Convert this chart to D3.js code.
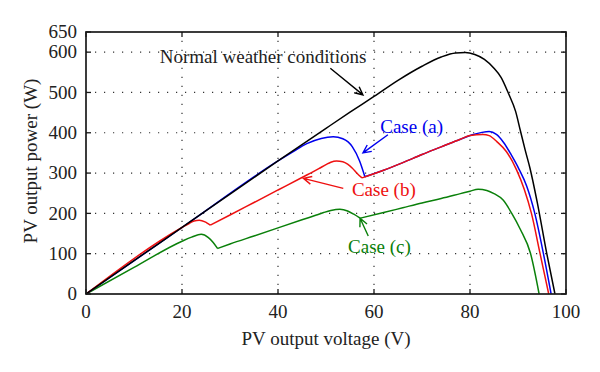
<!DOCTYPE html>
<html><head><meta charset="utf-8">
<script src="https://cdn.jsdelivr.net/npm/d3@7"></script>
<style>
html,body{margin:0;padding:0;background:#fff;}
text{font-family:"Liberation Serif","Times New Roman",serif;}
</style></head>
<body><svg id="c" width="600" height="372"></svg>
<script>
// ---- data ----
const xTicks = [0, 20, 40, 60, 80, 100];
const yTicks = [0, 100, 200, 300, 400, 500, 600, 650];

const normalV = [0, 10, 20, 30, 40, 50, 55, 60, 65, 70, 74, 77, 79, 81, 83, 85, 86.5, 88, 89.5, 90.5, 91.5, 92.5, 94, 96, 97.7];
const normalP = [0, 83, 165, 248, 330, 411, 451, 490, 530, 565, 588, 598, 599, 594, 582, 560, 537, 498, 453, 405, 357, 312, 228, 100, 0];

const caseAV = [0, 20, 40, 43, 46, 49, 51.5, 53.5, 55.5, 57, 58.1, 62, 66, 70, 74, 78, 80.5, 82.5, 84, 85.5, 87, 88.6, 90.2, 91.8, 93.5, 95.3, 96.9];
const caseAP = [0, 165, 330, 352, 373, 386, 390, 385, 365, 330, 291, 307, 326, 346, 365, 384, 395, 401, 403, 396, 376, 345, 310, 268, 200, 100, 0];

const caseBV = [0, 20, 21.5, 22.5, 23.6, 24.8, 25.5, 25.9, 30, 35, 40, 45, 48.5, 50, 51, 52.2, 53.5, 54.5, 55.5, 56.5, 57.5, 62, 66, 70, 74, 78, 80, 82.7, 84, 85.6, 87.6, 89.7, 91.3, 92.8, 94.6, 96.4];
const caseBP = [0, 165, 175, 181, 183, 179, 174, 171, 196, 227, 258, 289, 311, 321, 327, 330, 328, 322, 312, 299, 288, 307, 326, 346, 365, 384, 393, 396, 393, 378, 353, 308, 260, 200, 100, 0];

const caseCV = [0, 10, 20, 22, 24, 25.5, 26.5, 27.4, 30, 35, 40, 45, 48, 49.5, 51, 52.9, 54.5, 55.8, 57.1, 62, 66, 70, 74, 78, 80, 81.7, 83.5, 85, 86.9, 88.7, 90.5, 92.6, 94.4];
const caseCP = [0, 66, 131, 141, 148, 140, 128, 113, 124, 144, 164, 184, 196, 202, 207, 210, 206, 198, 188, 202, 214, 226, 237, 249, 255, 260, 257, 249, 233, 200, 160, 101, 0];

const seriesNames = ["Normal weather conditions", "Case (a)", "Case (b)", "Case (c)"];
const seriesColors = ["#000000", "#0000ee", "#ee1111", "#0a800a"];

// annotations: label position and arrow (from -> to) in data units
const labelX = [36.9, 61.3, 55.4, 54.6];
const labelY = [572, 399, 244, 102];
const labelAnchor = ["middle", "start", "start", "start"];
const arrowFromX = [50.9, 62.9, 53.6, 58.8];
const arrowFromY = [560, 395, 262, 144];
const arrowToX = [57.7, 57.7, 45.3, 57.1];
const arrowToY = [494, 350, 287, 188];

// ---- layout ----
const W = 600, H = 372;
const m = {l: 86, r: 34, t: 32, b: 78};
const svg = d3.select("#c");
const x = d3.scaleLinear().domain([0, 100]).range([m.l, W - m.r]);
const y = d3.scaleLinear().domain([0, 650]).range([H - m.b, m.t]);

const g = svg.append("g");

// grid (dotted)
g.selectAll(".gx").data(xTicks.filter(d => d > 0 && d < 100)).join("line")
  .attr("x1", d => x(d)).attr("x2", d => x(d)).attr("y1", y(0)).attr("y2", y(650))
  .attr("stroke", "#333").attr("stroke-width", 1.2).attr("stroke-dasharray", "1.2,7.8");
g.selectAll(".gy").data(yTicks.filter(d => d > 0 && d < 650)).join("line")
  .attr("y1", d => y(d)).attr("y2", d => y(d)).attr("x1", x(0)).attr("x2", x(100))
  .attr("stroke", "#333").attr("stroke-width", 1.2).attr("stroke-dasharray", "1.2,7.8");

// curves (drawn green, blue, red, then black on top)
const allV = [normalV, caseAV, caseBV, caseCV];
const allP = [normalP, caseAP, caseBP, caseCP];
const drawOrder = [3, 1, 2, 0];
const lineGen = d3.line().x(d => x(d[0])).y(d => y(d[1])).curve(d3.curveMonotoneX);
drawOrder.forEach(k => {
  const V = allV[k], P = allP[k];
  const pts = V.map((v, i) => [v, P[i]]);
  // split into segments at sharp local minima (cusps) so corners stay sharp
  const segs = []; let cur = [pts[0]];
  for (let i = 1; i < pts.length; i++) {
    cur.push(pts[i]);
    if (i < pts.length - 1 && P[i] < P[i - 1] && P[i] < P[i + 1]) { segs.push(cur); cur = [pts[i]]; }
  }
  segs.push(cur);
  const d = segs.map(s => lineGen(s)).join("");
  g.append("path").attr("d", d).attr("fill", "none")
    .attr("stroke", seriesColors[k]).attr("stroke-width", 1.5).attr("stroke-linejoin", "round");
});

// frame
g.append("rect").attr("x", x(0)).attr("y", y(650)).attr("width", x(100) - x(0)).attr("height", y(0) - y(650))
  .attr("fill", "none").attr("stroke", "#1a1a1a").attr("stroke-width", 1.7);

// inward ticks on all four sides
const tl = 5;
xTicks.forEach(t => {
  g.append("line").attr("x1", x(t)).attr("x2", x(t)).attr("y1", y(0)).attr("y2", y(0) - tl).attr("stroke", "#1a1a1a").attr("stroke-width", 1.3);
  g.append("line").attr("x1", x(t)).attr("x2", x(t)).attr("y1", y(650)).attr("y2", y(650) + tl).attr("stroke", "#1a1a1a").attr("stroke-width", 1.3);
});
yTicks.forEach(t => {
  g.append("line").attr("y1", y(t)).attr("y2", y(t)).attr("x1", x(0)).attr("x2", x(0) + tl).attr("stroke", "#1a1a1a").attr("stroke-width", 1.3);
  g.append("line").attr("y1", y(t)).attr("y2", y(t)).attr("x1", x(100)).attr("x2", x(100) - tl).attr("stroke", "#1a1a1a").attr("stroke-width", 1.3);
});

// tick labels
g.selectAll(".xl").data(xTicks).join("text")
  .attr("x", d => x(d)).attr("y", y(0) + 24).attr("text-anchor", "middle")
  .attr("font-size", 19).attr("fill", "#222").text(d => d);
g.selectAll(".yl").data(yTicks).join("text")
  .attr("x", x(0) - 9).attr("y", d => y(d)).attr("dy", "0.33em").attr("text-anchor", "end")
  .attr("font-size", 19).attr("fill", "#222").text(d => d);

// axis titles
g.append("text").attr("x", (x(0) + x(100)) / 2).attr("y", y(0) + 51).attr("text-anchor", "middle")
  .attr("font-size", 19).attr("fill", "#222").text("PV output voltage (V)");
g.append("text").attr("transform", `translate(37,${(y(0) + y(650)) / 2 - 2}) rotate(-90)`)
  .attr("text-anchor", "middle").attr("font-size", 19).attr("fill", "#222").text("PV output power (W)");

// annotations
seriesNames.forEach((name, k) => {
  const col = seriesColors[k];
  g.append("text").attr("x", x(labelX[k])).attr("y", y(labelY[k])).attr("text-anchor", labelAnchor[k])
    .attr("font-size", 19).attr("fill", k === 0 ? "#222" : col).text(name);
  const x1 = x(arrowFromX[k]), y1 = y(arrowFromY[k]), x2 = x(arrowToX[k]), y2 = y(arrowToY[k]);
  const a = Math.atan2(y2 - y1, x2 - x1), L = 9, s = 0.45;
  const p1 = [x2 - L * Math.cos(a - s), y2 - L * Math.sin(a - s)];
  const p2 = [x2 - L * Math.cos(a + s), y2 - L * Math.sin(a + s)];
  g.append("path").attr("d", `M${x1},${y1}L${x2},${y2}M${p1[0]},${p1[1]}L${x2},${y2}L${p2[0]},${p2[1]}`)
    .attr("fill", "none").attr("stroke", col).attr("stroke-width", 1.4);
});
</script></body></html>
